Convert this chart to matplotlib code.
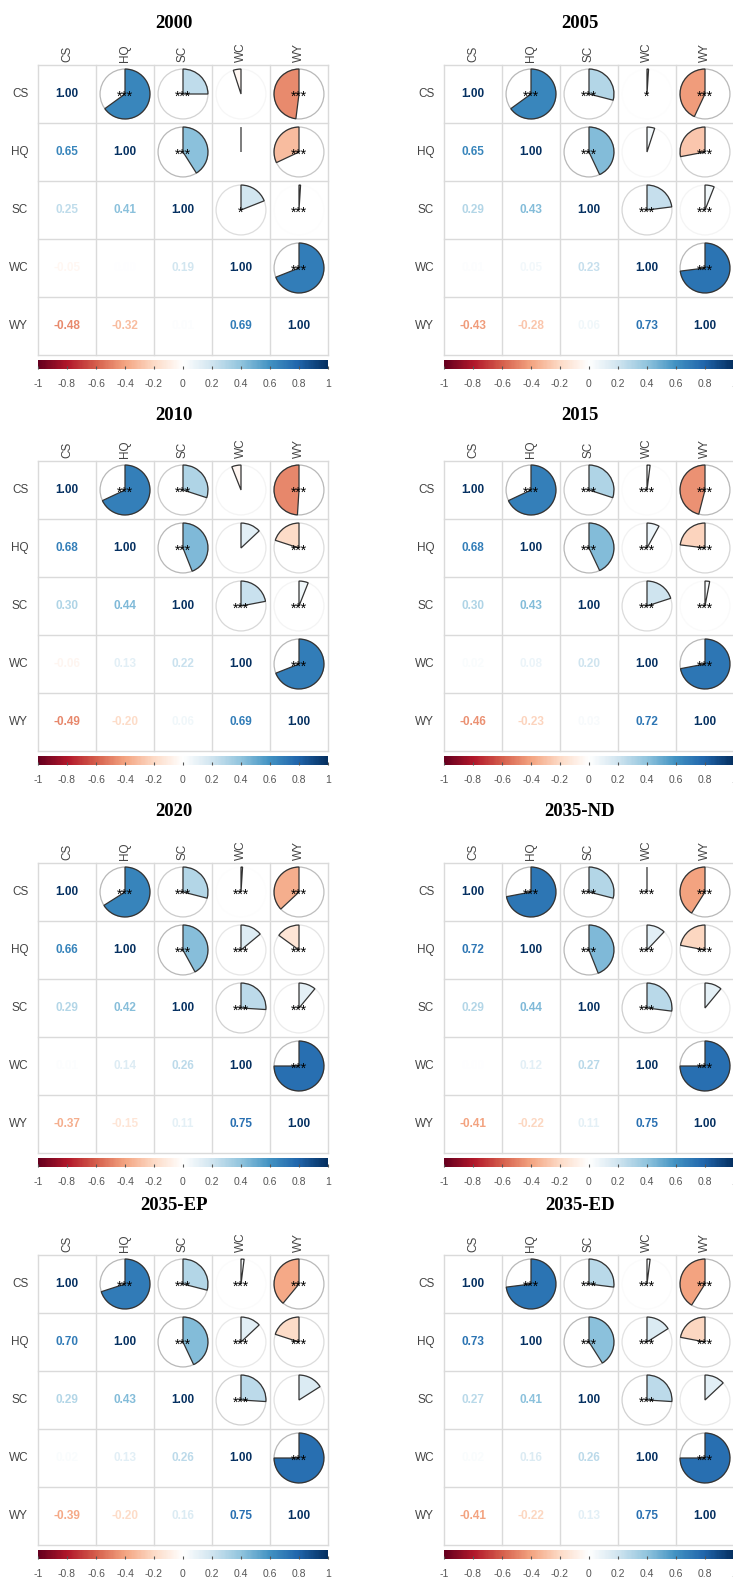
import numpy as np
import matplotlib.pyplot as plt
from matplotlib.patches import Wedge, Circle
from matplotlib.colors import LinearSegmentedColormap

plt.rcParams['font.family'] = ['Liberation Sans', 'DejaVu Sans']

variables = ['CS', 'HQ', 'SC', 'WC', 'WY']
titles = ['2000', '2005', '2010', '2015', '2020', '2035-ND', '2035-EP', '2035-ED']

# upper triangle, row by row:
# CS-HQ, CS-SC, CS-WC, CS-WY, HQ-SC, HQ-WC, HQ-WY, SC-WC, SC-WY, WC-WY
r_2000 = [0.65, 0.25, -0.05, -0.48, 0.41, 0.00, -0.32, 0.19, 0.01, 0.69]
r_2005 = [0.65, 0.29, 0.01, -0.43, 0.43, 0.05, -0.28, 0.23, 0.06, 0.73]
r_2010 = [0.68, 0.30, -0.06, -0.49, 0.44, 0.13, -0.20, 0.22, 0.06, 0.69]
r_2015 = [0.68, 0.30, 0.02, -0.46, 0.43, 0.08, -0.23, 0.20, 0.03, 0.72]
r_2020 = [0.66, 0.29, 0.01, -0.37, 0.42, 0.14, -0.15, 0.26, 0.11, 0.75]
r_2035_nd = [0.72, 0.29, 0.00, -0.41, 0.44, 0.12, -0.22, 0.27, 0.11, 0.75]
r_2035_ep = [0.70, 0.29, 0.02, -0.39, 0.43, 0.13, -0.20, 0.26, 0.16, 0.75]
r_2035_ed = [0.73, 0.27, 0.02, -0.41, 0.41, 0.16, -0.22, 0.26, 0.13, 0.75]

sig_2000 = ['***', '***', '', '***', '***', '', '***', '*', '***', '***']
sig_2005 = ['***', '***', '*', '***', '***', '', '***', '***', '***', '***']
sig_2010 = ['***', '***', '', '***', '***', '', '***', '***', '***', '***']
sig_2015 = ['***'] * 10
sig_2020 = ['***'] * 10
sig_2035_nd = ['***', '***', '***', '***', '***', '***', '***', '***', '', '***']
sig_2035_ep = ['***', '***', '***', '***', '***', '***', '***', '***', '', '***']
sig_2035_ed = ['***', '***', '***', '***', '***', '***', '***', '***', '', '***']

all_r = [r_2000, r_2005, r_2010, r_2015, r_2020, r_2035_nd, r_2035_ep, r_2035_ed]
all_sig = [sig_2000, sig_2005, sig_2010, sig_2015, sig_2020, sig_2035_nd, sig_2035_ep, sig_2035_ed]

# diverging red-white-blue palette with a pure white centre
palette = ['#67001F', '#B2182B', '#D6604D', '#F4A582', '#FDDBC7', '#FFFFFF',
           '#D1E5F0', '#92C5DE', '#4393C3', '#2166AC', '#053061']
cmap = LinearSegmentedColormap.from_list('rdbu_white', palette, N=200)

W, H = 733, 1577
col_x = [38, 444]
row_y = [65, 461, 863, 1255]
title_y = [24, 415, 812, 1206]
size = 290
n = len(variables)


def to_matrix(vals, fill):
    m = [[fill] * n for _ in range(n)]
    k = 0
    for i in range(n):
        for j in range(i + 1, n):
            m[i][j] = vals[k]
            m[j][i] = vals[k]
            k += 1
    return m


fig = plt.figure(figsize=(W / 100, H / 100), dpi=100)

for p, (title, vals, sigs) in enumerate(zip(titles, all_r, all_sig)):
    x0 = col_x[p % 2]
    y0 = row_y[p // 2]
    ax = fig.add_axes([x0 / W, 1 - (y0 + size) / H, size / W, size / H])
    ax.set_xlim(0, n)
    ax.set_ylim(0, n)
    ax.axis('off')

    R = to_matrix(vals, 1.0)
    S = to_matrix(sigs, '')

    # grid
    for k in range(n + 1):
        ax.plot([k, k], [0, n], color='#dadada', lw=1, clip_on=False, zorder=1)
        ax.plot([0, n], [k, k], color='#dadada', lw=1, clip_on=False, zorder=1)

    for i in range(n):
        yc = n - i - 0.5
        for j in range(n):
            xc = j + 0.5
            r = R[i][j]
            col = cmap((r + 1) / 2)
            if j <= i:
                ax.text(xc, yc, f'{r:.2f}', ha='center', va='center',
                        fontsize=8.5, fontweight='bold', color=col, zorder=3)
            else:
                t = min(1.0, abs(r) * 2.5)
                g = 1 - 0.28 * t
                ax.add_patch(Circle((xc, yc), 0.43, fill=False,
                                    edgecolor=(g, g, g), lw=0.9, zorder=2))
                span = 360 * abs(r)
                if r >= 0:
                    th1, th2 = 90 - span, 90
                else:
                    th1, th2 = 90, 90 + span
                ax.add_patch(Wedge((xc, yc), 0.43, th1, th2, facecolor=col,
                                   edgecolor='#333333', lw=0.9, zorder=3))
                if S[i][j]:
                    ax.text(xc, yc - 0.04, S[i][j], ha='center', va='center',
                            fontsize=10, color='black', zorder=4)

    for k, name in enumerate(variables):
        ax.text(k + 0.5, n + 0.06, name, rotation=90, ha='center', va='bottom',
                fontsize=8.5, color='#444444', clip_on=False)
        ax.text(-0.17, n - k - 0.5, name, ha='right', va='center',
                fontsize=8.5, color='#444444', clip_on=False)

    fig.text((x0 + size / 2 - 9) / W, 1 - title_y[p // 2] / H, title, ha='center',
             va='center', fontsize=13.5, fontweight='bold',
             family='Liberation Serif')

    # colour legend
    cax = fig.add_axes([x0 / W, 1 - (y0 + size + 14) / H, size / W, 9 / H])
    cax.imshow(np.linspace(-1, 1, 256)[None, :], aspect='auto', cmap=cmap,
               extent=[-1, 1, 0, 1])
    ticks = np.round(np.arange(-1, 1.01, 0.2), 1)
    cax.set_xticks(ticks)
    cax.set_xticklabels(['0' if v == 0 else f'{v:g}' for v in ticks])
    cax.set_yticks([])
    for s in cax.spines.values():
        s.set_visible(False)
    cax.tick_params(axis='x', direction='in', length=2, color='#555555',
                    labelsize=7.5, labelcolor='#555555', pad=7)

fig.savefig('out.png', dpi=100)
